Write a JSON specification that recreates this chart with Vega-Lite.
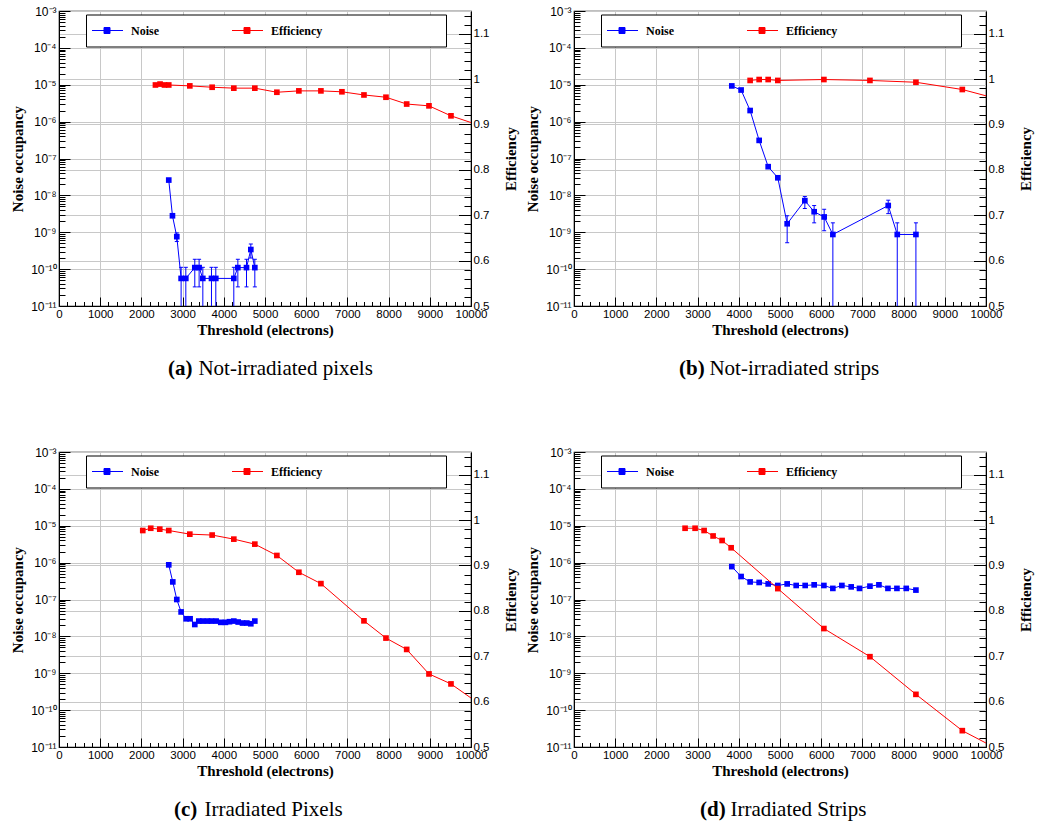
{
  "$schema": "https://vega.github.io/schema/vega-lite/v6.json",
  "background": "white",
  "padding": {"left": 10, "top": 4, "right": 2, "bottom": 2},
  "datasets": {
    "a": [
      {"s": "Noise", "t": 2664, "v": 2.6e-8},
      {"s": "Noise", "t": 2754, "v": 2.8e-9},
      {"s": "Noise", "t": 2859, "v": 7.6e-10, "lo": 5.6e-10, "hi": 9.6e-10},
      {"s": "Noise", "t": 2964, "v": 5.6e-11, "lo": 1e-12, "hi": 1.12e-10},
      {"s": "Noise", "t": 3078, "v": 5.6e-11, "lo": 1e-12, "hi": 1.12e-10},
      {"s": "Noise", "t": 3296, "v": 1.1e-10, "lo": 3.3e-11, "hi": 1.85e-10},
      {"s": "Noise", "t": 3401, "v": 1.1e-10, "lo": 3.3e-11, "hi": 1.85e-10},
      {"s": "Noise", "t": 3491, "v": 5.6e-11, "lo": 1e-12, "hi": 1.12e-10},
      {"s": "Noise", "t": 3701, "v": 5.6e-11, "lo": 1e-12, "hi": 1.12e-10},
      {"s": "Noise", "t": 3806, "v": 5.6e-11, "lo": 1e-12, "hi": 1.12e-10},
      {"s": "Noise", "t": 4243, "v": 5.6e-11, "lo": 1e-12, "hi": 1.12e-10},
      {"s": "Noise", "t": 4341, "v": 1.1e-10, "lo": 3.3e-11, "hi": 1.85e-10},
      {"s": "Noise", "t": 4551, "v": 1.1e-10, "lo": 3.3e-11, "hi": 1.85e-10},
      {"s": "Noise", "t": 4656, "v": 3.4e-10, "lo": 2.0e-10, "hi": 4.8e-10},
      {"s": "Noise", "t": 4753, "v": 1.1e-10, "lo": 3.3e-11, "hi": 1.85e-10},
      {"s": "Efficiency", "t": 2341, "v": 0.987},
      {"s": "Efficiency", "t": 2453, "v": 0.989},
      {"s": "Efficiency", "t": 2560, "v": 0.987},
      {"s": "Efficiency", "t": 2664, "v": 0.987},
      {"s": "Efficiency", "t": 3175, "v": 0.985},
      {"s": "Efficiency", "t": 3717, "v": 0.982},
      {"s": "Efficiency", "t": 4243, "v": 0.980},
      {"s": "Efficiency", "t": 4753, "v": 0.980},
      {"s": "Efficiency", "t": 5288, "v": 0.971},
      {"s": "Efficiency", "t": 5822, "v": 0.974},
      {"s": "Efficiency", "t": 6357, "v": 0.974},
      {"s": "Efficiency", "t": 6867, "v": 0.972},
      {"s": "Efficiency", "t": 7402, "v": 0.965},
      {"s": "Efficiency", "t": 7936, "v": 0.960},
      {"s": "Efficiency", "t": 8439, "v": 0.945},
      {"s": "Efficiency", "t": 8980, "v": 0.941},
      {"s": "Efficiency", "t": 9514, "v": 0.919},
      {"s": "Efficiency", "t": 10500, "v": 0.889}
    ],
    "b": [
      {"s": "Noise", "t": 3830, "v": 9.3e-6},
      {"s": "Noise", "t": 4056, "v": 7.2e-6},
      {"s": "Noise", "t": 4275, "v": 2.0e-6},
      {"s": "Noise", "t": 4494, "v": 3.1e-7},
      {"s": "Noise", "t": 4713, "v": 6.0e-8},
      {"s": "Noise", "t": 4947, "v": 3.0e-8},
      {"s": "Noise", "t": 5174, "v": 1.7e-9, "lo": 5.2e-10, "hi": 2.8e-9},
      {"s": "Noise", "t": 5603, "v": 7.2e-9, "lo": 4.4e-9, "hi": 9.3e-9},
      {"s": "Noise", "t": 5829, "v": 3.6e-9, "lo": 1.8e-9, "hi": 5.3e-9},
      {"s": "Noise", "t": 6072, "v": 2.6e-9, "lo": 1.1e-9, "hi": 4.2e-9},
      {"s": "Noise", "t": 6283, "v": 8.7e-10, "lo": 1e-12, "hi": 1.8e-9},
      {"s": "Noise", "t": 7627, "v": 5.3e-9, "lo": 3.2e-9, "hi": 7.4e-9},
      {"s": "Noise", "t": 7846, "v": 8.7e-10, "lo": 1e-12, "hi": 1.8e-9},
      {"s": "Noise", "t": 8299, "v": 8.7e-10, "lo": 1e-12, "hi": 1.8e-9},
      {"s": "Efficiency", "t": 4275, "v": 0.997},
      {"s": "Efficiency", "t": 4494, "v": 0.999},
      {"s": "Efficiency", "t": 4713, "v": 0.999},
      {"s": "Efficiency", "t": 4947, "v": 0.997},
      {"s": "Efficiency", "t": 6065, "v": 0.999},
      {"s": "Efficiency", "t": 7183, "v": 0.997},
      {"s": "Efficiency", "t": 8299, "v": 0.993},
      {"s": "Efficiency", "t": 9425, "v": 0.977},
      {"s": "Efficiency", "t": 10500, "v": 0.951}
    ],
    "c": [
      {"s": "Noise", "t": 2664, "v": 8.7e-7},
      {"s": "Noise", "t": 2762, "v": 3.0e-7},
      {"s": "Noise", "t": 2859, "v": 1.0e-7},
      {"s": "Noise", "t": 2964, "v": 4.6e-8},
      {"s": "Noise", "t": 3085, "v": 3.0e-8},
      {"s": "Noise", "t": 3182, "v": 3.0e-8},
      {"s": "Noise", "t": 3296, "v": 2.1e-8},
      {"s": "Noise", "t": 3393, "v": 2.6e-8},
      {"s": "Noise", "t": 3490, "v": 2.6e-8},
      {"s": "Noise", "t": 3603, "v": 2.6e-8},
      {"s": "Noise", "t": 3700, "v": 2.6e-8},
      {"s": "Noise", "t": 3814, "v": 2.6e-8},
      {"s": "Noise", "t": 3927, "v": 2.4e-8},
      {"s": "Noise", "t": 4040, "v": 2.4e-8},
      {"s": "Noise", "t": 4138, "v": 2.5e-8},
      {"s": "Noise", "t": 4243, "v": 2.6e-8},
      {"s": "Noise", "t": 4349, "v": 2.45e-8},
      {"s": "Noise", "t": 4454, "v": 2.3e-8},
      {"s": "Noise", "t": 4559, "v": 2.3e-8},
      {"s": "Noise", "t": 4656, "v": 2.2e-8},
      {"s": "Noise", "t": 4753, "v": 2.6e-8},
      {"s": "Efficiency", "t": 2033, "v": 0.977},
      {"s": "Efficiency", "t": 2227, "v": 0.982},
      {"s": "Efficiency", "t": 2446, "v": 0.980},
      {"s": "Efficiency", "t": 2664, "v": 0.977},
      {"s": "Efficiency", "t": 3175, "v": 0.969},
      {"s": "Efficiency", "t": 3717, "v": 0.967},
      {"s": "Efficiency", "t": 4243, "v": 0.958},
      {"s": "Efficiency", "t": 4753, "v": 0.947},
      {"s": "Efficiency", "t": 5288, "v": 0.922},
      {"s": "Efficiency", "t": 5822, "v": 0.885},
      {"s": "Efficiency", "t": 6357, "v": 0.860},
      {"s": "Efficiency", "t": 7402, "v": 0.778},
      {"s": "Efficiency", "t": 7936, "v": 0.740},
      {"s": "Efficiency", "t": 8439, "v": 0.715},
      {"s": "Efficiency", "t": 8980, "v": 0.661},
      {"s": "Efficiency", "t": 9514, "v": 0.639},
      {"s": "Efficiency", "t": 10500, "v": 0.576}
    ],
    "d": [
      {"s": "Noise", "t": 3830, "v": 7.8e-7},
      {"s": "Noise", "t": 4056, "v": 4.2e-7},
      {"s": "Noise", "t": 4275, "v": 3.0e-7},
      {"s": "Noise", "t": 4494, "v": 2.9e-7},
      {"s": "Noise", "t": 4713, "v": 2.65e-7},
      {"s": "Noise", "t": 4947, "v": 2.4e-7},
      {"s": "Noise", "t": 5174, "v": 2.65e-7},
      {"s": "Noise", "t": 5393, "v": 2.4e-7},
      {"s": "Noise", "t": 5611, "v": 2.4e-7},
      {"s": "Noise", "t": 5829, "v": 2.5e-7},
      {"s": "Noise", "t": 6065, "v": 2.4e-7},
      {"s": "Noise", "t": 6283, "v": 2.0e-7},
      {"s": "Noise", "t": 6502, "v": 2.4e-7},
      {"s": "Noise", "t": 6728, "v": 2.2e-7},
      {"s": "Noise", "t": 6930, "v": 2.0e-7},
      {"s": "Noise", "t": 7183, "v": 2.3e-7},
      {"s": "Noise", "t": 7401, "v": 2.5e-7},
      {"s": "Noise", "t": 7620, "v": 2.0e-7},
      {"s": "Noise", "t": 7838, "v": 2.0e-7},
      {"s": "Noise", "t": 8064, "v": 2.0e-7},
      {"s": "Noise", "t": 8299, "v": 1.8e-7},
      {"s": "Efficiency", "t": 2696, "v": 0.982},
      {"s": "Efficiency", "t": 2939, "v": 0.982},
      {"s": "Efficiency", "t": 3158, "v": 0.977},
      {"s": "Efficiency", "t": 3376, "v": 0.965},
      {"s": "Efficiency", "t": 3595, "v": 0.955},
      {"s": "Efficiency", "t": 3814, "v": 0.939},
      {"s": "Efficiency", "t": 4947, "v": 0.849},
      {"s": "Efficiency", "t": 6065, "v": 0.761},
      {"s": "Efficiency", "t": 7183, "v": 0.699},
      {"s": "Efficiency", "t": 8299, "v": 0.616},
      {"s": "Efficiency", "t": 9425, "v": 0.536},
      {"s": "Efficiency", "t": 10500, "v": 0.485}
    ]
  },
  "columns": 2,
  "spacing": {"row": 146, "column": 103},
  "bounds": "flush",
  "resolve": {"scale": {"x": "independent", "y": "independent", "color": "independent"}, "legend": {"color": "independent"}},
  "concat": [
    {
      "width": 412, "height": 295,
      "title": {"text": "(a)", "subtitle": "\u200B\u2003\u2005\u2009Not-irradiated pixels", "dx": 109},
      "data": {"name": "a"},
      "resolve": {"scale": {"x": "independent", "y": "independent"}},
      "layer": [
        {"transform": [{"filter": "datum.s == 'Noise'"}],
         "mark": {"type": "line", "strokeWidth": 1, "clip": true},
         "encoding": {
           "x": {"field": "t", "type": "quantitative", "scale": {"domain": [0, 10000], "nice": false}, "axis": {"orient": "bottom", "values": [0,1000,2000,3000,4000,5000,6000,7000,8000,9000,10000], "format": "d", "tickSize": -9, "labelPadding": 11, "grid": true, "title": "Threshold (electrons)", "titlePadding": 3}},
           "y": {"field": "v", "type": "quantitative", "scale": {"type": "log", "domain": [1e-11, 1e-3], "nice": false}, "axis": {"orient": "left", "values": [1e-11,1e-10,1e-9,1e-8,1e-7,1e-6,1e-5,1e-4,1e-3], "labelExpr": "'10' + ['⁻¹¹','⁻¹⁰','⁻⁹','⁻⁸','⁻⁷','⁻⁶','⁻⁵','⁻⁴','⁻³'][round(log(datum.value)/LN10)+11]", "labelFontSize": 12, "tickSize": -11, "labelPadding": 14, "grid": true, "title": "Noise occupancy", "titlePadding": 5}},
           "color": {"field": "s", "type": "nominal", "scale": {"domain": ["Noise", "Efficiency"], "range": ["#0000ff", "#ff0000"]}, "legend": {"title": null, "orient": "none", "legendX": 27, "legendY": 3.5, "direction": "horizontal", "labelExpr": "datum.label == 'Efficiency' ? 'Efficiency\u2003\u2003\u2003\u2003\u2003\u2003\u2003\u2003\u2003\u2005\u2009\u200B' : datum.label"}}
         }},
        {"transform": [{"filter": "datum.s == 'Noise'"}],
         "mark": {"type": "point", "shape": "square", "filled": true, "size": 32, "opacity": 1, "clip": true},
         "encoding": {
           "x": {"field": "t", "type": "quantitative", "scale": {"domain": [0, 10000], "nice": false}, "axis": {"orient": "bottom", "values": [200,400,600,800,1200,1400,1600,1800,2200,2400,2600,2800,3200,3400,3600,3800,4200,4400,4600,4800,5200,5400,5600,5800,6200,6400,6600,6800,7200,7400,7600,7800,8200,8400,8600,8800,9200,9400,9600,9800], "labels": false, "tickSize": -4.5, "grid": false, "domain": false, "title": null}},
           "y": {"field": "v", "type": "quantitative", "scale": {"type": "log", "domain": [1e-11, 1e-3], "nice": false}, "axis": {"orient": "left", "values": [2e-11,3e-11,4e-11,5e-11,6e-11,7e-11,8e-11,9e-11,2e-10,3e-10,4e-10,5e-10,6e-10,7e-10,8e-10,9e-10,2e-9,3e-9,4e-9,5e-9,6e-9,7e-9,8e-9,9e-9,2e-8,3e-8,4e-8,5e-8,6e-8,7e-8,8e-8,9e-8,2e-7,3e-7,4e-7,5e-7,6e-7,7e-7,8e-7,9e-7,2e-6,3e-6,4e-6,5e-6,6e-6,7e-6,8e-6,9e-6,2e-5,3e-5,4e-5,5e-5,6e-5,7e-5,8e-5,9e-5,2e-4,3e-4,4e-4,5e-4,6e-4,7e-4,8e-4,9e-4], "labels": false, "tickSize": -6, "grid": false, "domain": false, "title": null}},
           "color": {"field": "s", "type": "nominal", "scale": {"domain": ["Noise", "Efficiency"], "range": ["#0000ff", "#ff0000"]}, "legend": {"title": null, "orient": "none", "legendX": 27, "legendY": 3.5, "direction": "horizontal", "labelExpr": "datum.label == 'Efficiency' ? 'Efficiency\u2003\u2003\u2003\u2003\u2003\u2003\u2003\u2003\u2003\u2005\u2009\u200B' : datum.label"}}
         }},
        {"transform": [{"filter": "datum.s == 'Noise' && isValid(datum.lo)"}],
         "mark": {"type": "rule", "color": "#0000ff", "strokeWidth": 1, "clip": true},
         "encoding": {
           "x": {"field": "t", "type": "quantitative", "scale": {"domain": [0, 10000], "nice": false}, "axis": null},
           "y": {"field": "lo", "type": "quantitative", "scale": {"type": "log", "domain": [1e-11, 1e-3], "nice": false}, "axis": null},
           "y2": {"field": "hi"}
         }},
        {"transform": [{"filter": "datum.s == 'Noise' && isValid(datum.lo)"}],
         "mark": {"type": "tick", "orient": "horizontal", "size": 4, "thickness": 1, "color": "#0000ff", "opacity": 1, "clip": true},
         "encoding": {
           "x": {"field": "t", "type": "quantitative", "scale": {"domain": [0, 10000], "nice": false}, "axis": null},
           "y": {"field": "hi", "type": "quantitative", "scale": {"type": "log", "domain": [1e-11, 1e-3], "nice": false}, "axis": null}
         }},
        {"transform": [{"filter": "datum.s == 'Noise' && isValid(datum.lo)"}],
         "mark": {"type": "tick", "orient": "horizontal", "size": 4, "thickness": 1, "color": "#0000ff", "opacity": 1, "clip": true},
         "encoding": {
           "x": {"field": "t", "type": "quantitative", "scale": {"domain": [0, 10000], "nice": false}, "axis": null},
           "y": {"field": "lo", "type": "quantitative", "scale": {"type": "log", "domain": [1e-11, 1e-3], "nice": false}, "axis": null}
         }},
        {"transform": [{"filter": "datum.s == 'Efficiency'"}],
         "mark": {"type": "line", "strokeWidth": 1, "clip": true},
         "encoding": {
           "x": {"field": "t", "type": "quantitative", "scale": {"domain": [0, 10000], "nice": false}, "axis": null},
           "y": {"field": "v", "type": "quantitative", "scale": {"domain": [0.5, 1.15], "nice": false, "zero": false}, "axis": {"orient": "right", "values": [0.5,0.6,0.7,0.8,0.9,1,1.1], "format": "~g", "tickSize": -12.5, "labelPadding": 14.5, "grid": true, "title": "Efficiency", "titleAngle": 270, "titlePadding": 30}},
           "color": {"field": "s", "type": "nominal", "scale": {"domain": ["Noise", "Efficiency"], "range": ["#0000ff", "#ff0000"]}, "legend": {"title": null, "orient": "none", "legendX": 27, "legendY": 3.5, "direction": "horizontal", "labelExpr": "datum.label == 'Efficiency' ? 'Efficiency\u2003\u2003\u2003\u2003\u2003\u2003\u2003\u2003\u2003\u2005\u2009\u200B' : datum.label"}}
         }},
        {"transform": [{"filter": "datum.s == 'Efficiency'"}],
         "mark": {"type": "point", "shape": "square", "filled": true, "size": 32, "opacity": 1, "clip": true},
         "encoding": {
           "x": {"field": "t", "type": "quantitative", "scale": {"domain": [0, 10000], "nice": false}, "axis": null},
           "y": {"field": "v", "type": "quantitative", "scale": {"domain": [0.5, 1.15], "nice": false, "zero": false}, "axis": {"orient": "right", "values": [0.52,0.54,0.56,0.58,0.62,0.64,0.66,0.68,0.72,0.74,0.76,0.78,0.82,0.84,0.86,0.88,0.92,0.94,0.96,0.98,1.02,1.04,1.06,1.08,1.12,1.14], "labels": false, "tickSize": -7, "grid": false, "domain": false, "title": null}},
           "color": {"field": "s", "type": "nominal", "scale": {"domain": ["Noise", "Efficiency"], "range": ["#0000ff", "#ff0000"]}, "legend": {"title": null, "orient": "none", "legendX": 27, "legendY": 3.5, "direction": "horizontal", "labelExpr": "datum.label == 'Efficiency' ? 'Efficiency\u2003\u2003\u2003\u2003\u2003\u2003\u2003\u2003\u2003\u2005\u2009\u200B' : datum.label"}}
         }}
      ]
    },
    {
      "width": 412, "height": 295,
      "title": {"text": "(b)", "subtitle": "\u200B\u2003\u2005\u2009Not-irradiated strips", "dx": 105},
      "data": {"name": "b"},
      "resolve": {"scale": {"x": "independent", "y": "independent"}},
      "layer": [
        {"transform": [{"filter": "datum.s == 'Noise'"}],
         "mark": {"type": "line", "strokeWidth": 1, "clip": true},
         "encoding": {
           "x": {"field": "t", "type": "quantitative", "scale": {"domain": [0, 10000], "nice": false}, "axis": {"orient": "bottom", "values": [0,1000,2000,3000,4000,5000,6000,7000,8000,9000,10000], "format": "d", "tickSize": -9, "labelPadding": 11, "grid": true, "title": "Threshold (electrons)", "titlePadding": 3}},
           "y": {"field": "v", "type": "quantitative", "scale": {"type": "log", "domain": [1e-11, 1e-3], "nice": false}, "axis": {"orient": "left", "values": [1e-11,1e-10,1e-9,1e-8,1e-7,1e-6,1e-5,1e-4,1e-3], "labelExpr": "'10' + ['⁻¹¹','⁻¹⁰','⁻⁹','⁻⁸','⁻⁷','⁻⁶','⁻⁵','⁻⁴','⁻³'][round(log(datum.value)/LN10)+11]", "labelFontSize": 12, "tickSize": -11, "labelPadding": 14, "grid": true, "title": "Noise occupancy", "titlePadding": 5}},
           "color": {"field": "s", "type": "nominal", "scale": {"domain": ["Noise", "Efficiency"], "range": ["#0000ff", "#ff0000"]}, "legend": {"title": null, "orient": "none", "legendX": 27, "legendY": 3.5, "direction": "horizontal", "labelExpr": "datum.label == 'Efficiency' ? 'Efficiency\u2003\u2003\u2003\u2003\u2003\u2003\u2003\u2003\u2003\u2005\u2009\u200B' : datum.label"}}
         }},
        {"transform": [{"filter": "datum.s == 'Noise'"}],
         "mark": {"type": "point", "shape": "square", "filled": true, "size": 32, "opacity": 1, "clip": true},
         "encoding": {
           "x": {"field": "t", "type": "quantitative", "scale": {"domain": [0, 10000], "nice": false}, "axis": {"orient": "bottom", "values": [200,400,600,800,1200,1400,1600,1800,2200,2400,2600,2800,3200,3400,3600,3800,4200,4400,4600,4800,5200,5400,5600,5800,6200,6400,6600,6800,7200,7400,7600,7800,8200,8400,8600,8800,9200,9400,9600,9800], "labels": false, "tickSize": -4.5, "grid": false, "domain": false, "title": null}},
           "y": {"field": "v", "type": "quantitative", "scale": {"type": "log", "domain": [1e-11, 1e-3], "nice": false}, "axis": {"orient": "left", "values": [2e-11,3e-11,4e-11,5e-11,6e-11,7e-11,8e-11,9e-11,2e-10,3e-10,4e-10,5e-10,6e-10,7e-10,8e-10,9e-10,2e-9,3e-9,4e-9,5e-9,6e-9,7e-9,8e-9,9e-9,2e-8,3e-8,4e-8,5e-8,6e-8,7e-8,8e-8,9e-8,2e-7,3e-7,4e-7,5e-7,6e-7,7e-7,8e-7,9e-7,2e-6,3e-6,4e-6,5e-6,6e-6,7e-6,8e-6,9e-6,2e-5,3e-5,4e-5,5e-5,6e-5,7e-5,8e-5,9e-5,2e-4,3e-4,4e-4,5e-4,6e-4,7e-4,8e-4,9e-4], "labels": false, "tickSize": -6, "grid": false, "domain": false, "title": null}},
           "color": {"field": "s", "type": "nominal", "scale": {"domain": ["Noise", "Efficiency"], "range": ["#0000ff", "#ff0000"]}, "legend": {"title": null, "orient": "none", "legendX": 27, "legendY": 3.5, "direction": "horizontal", "labelExpr": "datum.label == 'Efficiency' ? 'Efficiency\u2003\u2003\u2003\u2003\u2003\u2003\u2003\u2003\u2003\u2005\u2009\u200B' : datum.label"}}
         }},
        {"transform": [{"filter": "datum.s == 'Noise' && isValid(datum.lo)"}],
         "mark": {"type": "rule", "color": "#0000ff", "strokeWidth": 1, "clip": true},
         "encoding": {
           "x": {"field": "t", "type": "quantitative", "scale": {"domain": [0, 10000], "nice": false}, "axis": null},
           "y": {"field": "lo", "type": "quantitative", "scale": {"type": "log", "domain": [1e-11, 1e-3], "nice": false}, "axis": null},
           "y2": {"field": "hi"}
         }},
        {"transform": [{"filter": "datum.s == 'Noise' && isValid(datum.lo)"}],
         "mark": {"type": "tick", "orient": "horizontal", "size": 4, "thickness": 1, "color": "#0000ff", "opacity": 1, "clip": true},
         "encoding": {
           "x": {"field": "t", "type": "quantitative", "scale": {"domain": [0, 10000], "nice": false}, "axis": null},
           "y": {"field": "hi", "type": "quantitative", "scale": {"type": "log", "domain": [1e-11, 1e-3], "nice": false}, "axis": null}
         }},
        {"transform": [{"filter": "datum.s == 'Noise' && isValid(datum.lo)"}],
         "mark": {"type": "tick", "orient": "horizontal", "size": 4, "thickness": 1, "color": "#0000ff", "opacity": 1, "clip": true},
         "encoding": {
           "x": {"field": "t", "type": "quantitative", "scale": {"domain": [0, 10000], "nice": false}, "axis": null},
           "y": {"field": "lo", "type": "quantitative", "scale": {"type": "log", "domain": [1e-11, 1e-3], "nice": false}, "axis": null}
         }},
        {"transform": [{"filter": "datum.s == 'Efficiency'"}],
         "mark": {"type": "line", "strokeWidth": 1, "clip": true},
         "encoding": {
           "x": {"field": "t", "type": "quantitative", "scale": {"domain": [0, 10000], "nice": false}, "axis": null},
           "y": {"field": "v", "type": "quantitative", "scale": {"domain": [0.5, 1.15], "nice": false, "zero": false}, "axis": {"orient": "right", "values": [0.5,0.6,0.7,0.8,0.9,1,1.1], "format": "~g", "tickSize": -12.5, "labelPadding": 14.5, "grid": true, "title": "Efficiency", "titleAngle": 270, "titlePadding": 30}},
           "color": {"field": "s", "type": "nominal", "scale": {"domain": ["Noise", "Efficiency"], "range": ["#0000ff", "#ff0000"]}, "legend": {"title": null, "orient": "none", "legendX": 27, "legendY": 3.5, "direction": "horizontal", "labelExpr": "datum.label == 'Efficiency' ? 'Efficiency\u2003\u2003\u2003\u2003\u2003\u2003\u2003\u2003\u2003\u2005\u2009\u200B' : datum.label"}}
         }},
        {"transform": [{"filter": "datum.s == 'Efficiency'"}],
         "mark": {"type": "point", "shape": "square", "filled": true, "size": 32, "opacity": 1, "clip": true},
         "encoding": {
           "x": {"field": "t", "type": "quantitative", "scale": {"domain": [0, 10000], "nice": false}, "axis": null},
           "y": {"field": "v", "type": "quantitative", "scale": {"domain": [0.5, 1.15], "nice": false, "zero": false}, "axis": {"orient": "right", "values": [0.52,0.54,0.56,0.58,0.62,0.64,0.66,0.68,0.72,0.74,0.76,0.78,0.82,0.84,0.86,0.88,0.92,0.94,0.96,0.98,1.02,1.04,1.06,1.08,1.12,1.14], "labels": false, "tickSize": -7, "grid": false, "domain": false, "title": null}},
           "color": {"field": "s", "type": "nominal", "scale": {"domain": ["Noise", "Efficiency"], "range": ["#0000ff", "#ff0000"]}, "legend": {"title": null, "orient": "none", "legendX": 27, "legendY": 3.5, "direction": "horizontal", "labelExpr": "datum.label == 'Efficiency' ? 'Efficiency\u2003\u2003\u2003\u2003\u2003\u2003\u2003\u2003\u2003\u2005\u2009\u200B' : datum.label"}}
         }}
      ]
    },
    {
      "width": 412, "height": 295,
      "title": {"text": "(c)", "subtitle": "\u200B\u2003\u2005\u2009Irradiated Pixels", "dx": 115},
      "data": {"name": "c"},
      "resolve": {"scale": {"x": "independent", "y": "independent"}},
      "layer": [
        {"transform": [{"filter": "datum.s == 'Noise'"}],
         "mark": {"type": "line", "strokeWidth": 1, "clip": true},
         "encoding": {
           "x": {"field": "t", "type": "quantitative", "scale": {"domain": [0, 10000], "nice": false}, "axis": {"orient": "bottom", "values": [0,1000,2000,3000,4000,5000,6000,7000,8000,9000,10000], "format": "d", "tickSize": -9, "labelPadding": 11, "grid": true, "title": "Threshold (electrons)", "titlePadding": 3}},
           "y": {"field": "v", "type": "quantitative", "scale": {"type": "log", "domain": [1e-11, 1e-3], "nice": false}, "axis": {"orient": "left", "values": [1e-11,1e-10,1e-9,1e-8,1e-7,1e-6,1e-5,1e-4,1e-3], "labelExpr": "'10' + ['⁻¹¹','⁻¹⁰','⁻⁹','⁻⁸','⁻⁷','⁻⁶','⁻⁵','⁻⁴','⁻³'][round(log(datum.value)/LN10)+11]", "labelFontSize": 12, "tickSize": -11, "labelPadding": 14, "grid": true, "title": "Noise occupancy", "titlePadding": 5}},
           "color": {"field": "s", "type": "nominal", "scale": {"domain": ["Noise", "Efficiency"], "range": ["#0000ff", "#ff0000"]}, "legend": {"title": null, "orient": "none", "legendX": 27, "legendY": 3.5, "direction": "horizontal", "labelExpr": "datum.label == 'Efficiency' ? 'Efficiency\u2003\u2003\u2003\u2003\u2003\u2003\u2003\u2003\u2003\u2005\u2009\u200B' : datum.label"}}
         }},
        {"transform": [{"filter": "datum.s == 'Noise'"}],
         "mark": {"type": "point", "shape": "square", "filled": true, "size": 32, "opacity": 1, "clip": true},
         "encoding": {
           "x": {"field": "t", "type": "quantitative", "scale": {"domain": [0, 10000], "nice": false}, "axis": {"orient": "bottom", "values": [200,400,600,800,1200,1400,1600,1800,2200,2400,2600,2800,3200,3400,3600,3800,4200,4400,4600,4800,5200,5400,5600,5800,6200,6400,6600,6800,7200,7400,7600,7800,8200,8400,8600,8800,9200,9400,9600,9800], "labels": false, "tickSize": -4.5, "grid": false, "domain": false, "title": null}},
           "y": {"field": "v", "type": "quantitative", "scale": {"type": "log", "domain": [1e-11, 1e-3], "nice": false}, "axis": {"orient": "left", "values": [2e-11,3e-11,4e-11,5e-11,6e-11,7e-11,8e-11,9e-11,2e-10,3e-10,4e-10,5e-10,6e-10,7e-10,8e-10,9e-10,2e-9,3e-9,4e-9,5e-9,6e-9,7e-9,8e-9,9e-9,2e-8,3e-8,4e-8,5e-8,6e-8,7e-8,8e-8,9e-8,2e-7,3e-7,4e-7,5e-7,6e-7,7e-7,8e-7,9e-7,2e-6,3e-6,4e-6,5e-6,6e-6,7e-6,8e-6,9e-6,2e-5,3e-5,4e-5,5e-5,6e-5,7e-5,8e-5,9e-5,2e-4,3e-4,4e-4,5e-4,6e-4,7e-4,8e-4,9e-4], "labels": false, "tickSize": -6, "grid": false, "domain": false, "title": null}},
           "color": {"field": "s", "type": "nominal", "scale": {"domain": ["Noise", "Efficiency"], "range": ["#0000ff", "#ff0000"]}, "legend": {"title": null, "orient": "none", "legendX": 27, "legendY": 3.5, "direction": "horizontal", "labelExpr": "datum.label == 'Efficiency' ? 'Efficiency\u2003\u2003\u2003\u2003\u2003\u2003\u2003\u2003\u2003\u2005\u2009\u200B' : datum.label"}}
         }},
        {"transform": [{"filter": "datum.s == 'Efficiency'"}],
         "mark": {"type": "line", "strokeWidth": 1, "clip": true},
         "encoding": {
           "x": {"field": "t", "type": "quantitative", "scale": {"domain": [0, 10000], "nice": false}, "axis": null},
           "y": {"field": "v", "type": "quantitative", "scale": {"domain": [0.5, 1.15], "nice": false, "zero": false}, "axis": {"orient": "right", "values": [0.5,0.6,0.7,0.8,0.9,1,1.1], "format": "~g", "tickSize": -12.5, "labelPadding": 14.5, "grid": true, "title": "Efficiency", "titleAngle": 270, "titlePadding": 30}},
           "color": {"field": "s", "type": "nominal", "scale": {"domain": ["Noise", "Efficiency"], "range": ["#0000ff", "#ff0000"]}, "legend": {"title": null, "orient": "none", "legendX": 27, "legendY": 3.5, "direction": "horizontal", "labelExpr": "datum.label == 'Efficiency' ? 'Efficiency\u2003\u2003\u2003\u2003\u2003\u2003\u2003\u2003\u2003\u2005\u2009\u200B' : datum.label"}}
         }},
        {"transform": [{"filter": "datum.s == 'Efficiency'"}],
         "mark": {"type": "point", "shape": "square", "filled": true, "size": 32, "opacity": 1, "clip": true},
         "encoding": {
           "x": {"field": "t", "type": "quantitative", "scale": {"domain": [0, 10000], "nice": false}, "axis": null},
           "y": {"field": "v", "type": "quantitative", "scale": {"domain": [0.5, 1.15], "nice": false, "zero": false}, "axis": {"orient": "right", "values": [0.52,0.54,0.56,0.58,0.62,0.64,0.66,0.68,0.72,0.74,0.76,0.78,0.82,0.84,0.86,0.88,0.92,0.94,0.96,0.98,1.02,1.04,1.06,1.08,1.12,1.14], "labels": false, "tickSize": -7, "grid": false, "domain": false, "title": null}},
           "color": {"field": "s", "type": "nominal", "scale": {"domain": ["Noise", "Efficiency"], "range": ["#0000ff", "#ff0000"]}, "legend": {"title": null, "orient": "none", "legendX": 27, "legendY": 3.5, "direction": "horizontal", "labelExpr": "datum.label == 'Efficiency' ? 'Efficiency\u2003\u2003\u2003\u2003\u2003\u2003\u2003\u2003\u2003\u2005\u2009\u200B' : datum.label"}}
         }}
      ]
    },
    {
      "width": 412, "height": 295,
      "title": {"text": "(d)", "subtitle": "\u200B\u2003\u2005\u2009Irradiated Strips", "dx": 126},
      "data": {"name": "d"},
      "resolve": {"scale": {"x": "independent", "y": "independent"}},
      "layer": [
        {"transform": [{"filter": "datum.s == 'Noise'"}],
         "mark": {"type": "line", "strokeWidth": 1, "clip": true},
         "encoding": {
           "x": {"field": "t", "type": "quantitative", "scale": {"domain": [0, 10000], "nice": false}, "axis": {"orient": "bottom", "values": [0,1000,2000,3000,4000,5000,6000,7000,8000,9000,10000], "format": "d", "tickSize": -9, "labelPadding": 11, "grid": true, "title": "Threshold (electrons)", "titlePadding": 3}},
           "y": {"field": "v", "type": "quantitative", "scale": {"type": "log", "domain": [1e-11, 1e-3], "nice": false}, "axis": {"orient": "left", "values": [1e-11,1e-10,1e-9,1e-8,1e-7,1e-6,1e-5,1e-4,1e-3], "labelExpr": "'10' + ['⁻¹¹','⁻¹⁰','⁻⁹','⁻⁸','⁻⁷','⁻⁶','⁻⁵','⁻⁴','⁻³'][round(log(datum.value)/LN10)+11]", "labelFontSize": 12, "tickSize": -11, "labelPadding": 14, "grid": true, "title": "Noise occupancy", "titlePadding": 5}},
           "color": {"field": "s", "type": "nominal", "scale": {"domain": ["Noise", "Efficiency"], "range": ["#0000ff", "#ff0000"]}, "legend": {"title": null, "orient": "none", "legendX": 27, "legendY": 3.5, "direction": "horizontal", "labelExpr": "datum.label == 'Efficiency' ? 'Efficiency\u2003\u2003\u2003\u2003\u2003\u2003\u2003\u2003\u2003\u2005\u2009\u200B' : datum.label"}}
         }},
        {"transform": [{"filter": "datum.s == 'Noise'"}],
         "mark": {"type": "point", "shape": "square", "filled": true, "size": 32, "opacity": 1, "clip": true},
         "encoding": {
           "x": {"field": "t", "type": "quantitative", "scale": {"domain": [0, 10000], "nice": false}, "axis": {"orient": "bottom", "values": [200,400,600,800,1200,1400,1600,1800,2200,2400,2600,2800,3200,3400,3600,3800,4200,4400,4600,4800,5200,5400,5600,5800,6200,6400,6600,6800,7200,7400,7600,7800,8200,8400,8600,8800,9200,9400,9600,9800], "labels": false, "tickSize": -4.5, "grid": false, "domain": false, "title": null}},
           "y": {"field": "v", "type": "quantitative", "scale": {"type": "log", "domain": [1e-11, 1e-3], "nice": false}, "axis": {"orient": "left", "values": [2e-11,3e-11,4e-11,5e-11,6e-11,7e-11,8e-11,9e-11,2e-10,3e-10,4e-10,5e-10,6e-10,7e-10,8e-10,9e-10,2e-9,3e-9,4e-9,5e-9,6e-9,7e-9,8e-9,9e-9,2e-8,3e-8,4e-8,5e-8,6e-8,7e-8,8e-8,9e-8,2e-7,3e-7,4e-7,5e-7,6e-7,7e-7,8e-7,9e-7,2e-6,3e-6,4e-6,5e-6,6e-6,7e-6,8e-6,9e-6,2e-5,3e-5,4e-5,5e-5,6e-5,7e-5,8e-5,9e-5,2e-4,3e-4,4e-4,5e-4,6e-4,7e-4,8e-4,9e-4], "labels": false, "tickSize": -6, "grid": false, "domain": false, "title": null}},
           "color": {"field": "s", "type": "nominal", "scale": {"domain": ["Noise", "Efficiency"], "range": ["#0000ff", "#ff0000"]}, "legend": {"title": null, "orient": "none", "legendX": 27, "legendY": 3.5, "direction": "horizontal", "labelExpr": "datum.label == 'Efficiency' ? 'Efficiency\u2003\u2003\u2003\u2003\u2003\u2003\u2003\u2003\u2003\u2005\u2009\u200B' : datum.label"}}
         }},
        {"transform": [{"filter": "datum.s == 'Efficiency'"}],
         "mark": {"type": "line", "strokeWidth": 1, "clip": true},
         "encoding": {
           "x": {"field": "t", "type": "quantitative", "scale": {"domain": [0, 10000], "nice": false}, "axis": null},
           "y": {"field": "v", "type": "quantitative", "scale": {"domain": [0.5, 1.15], "nice": false, "zero": false}, "axis": {"orient": "right", "values": [0.5,0.6,0.7,0.8,0.9,1,1.1], "format": "~g", "tickSize": -12.5, "labelPadding": 14.5, "grid": true, "title": "Efficiency", "titleAngle": 270, "titlePadding": 30}},
           "color": {"field": "s", "type": "nominal", "scale": {"domain": ["Noise", "Efficiency"], "range": ["#0000ff", "#ff0000"]}, "legend": {"title": null, "orient": "none", "legendX": 27, "legendY": 3.5, "direction": "horizontal", "labelExpr": "datum.label == 'Efficiency' ? 'Efficiency\u2003\u2003\u2003\u2003\u2003\u2003\u2003\u2003\u2003\u2005\u2009\u200B' : datum.label"}}
         }},
        {"transform": [{"filter": "datum.s == 'Efficiency'"}],
         "mark": {"type": "point", "shape": "square", "filled": true, "size": 32, "opacity": 1, "clip": true},
         "encoding": {
           "x": {"field": "t", "type": "quantitative", "scale": {"domain": [0, 10000], "nice": false}, "axis": null},
           "y": {"field": "v", "type": "quantitative", "scale": {"domain": [0.5, 1.15], "nice": false, "zero": false}, "axis": {"orient": "right", "values": [0.52,0.54,0.56,0.58,0.62,0.64,0.66,0.68,0.72,0.74,0.76,0.78,0.82,0.84,0.86,0.88,0.92,0.94,0.96,0.98,1.02,1.04,1.06,1.08,1.12,1.14], "labels": false, "tickSize": -7, "grid": false, "domain": false, "title": null}},
           "color": {"field": "s", "type": "nominal", "scale": {"domain": ["Noise", "Efficiency"], "range": ["#0000ff", "#ff0000"]}, "legend": {"title": null, "orient": "none", "legendX": 27, "legendY": 3.5, "direction": "horizontal", "labelExpr": "datum.label == 'Efficiency' ? 'Efficiency\u2003\u2003\u2003\u2003\u2003\u2003\u2003\u2003\u2003\u2005\u2009\u200B' : datum.label"}}
         }}
      ]
    }
  ],
  "config": {
    "view": {"stroke": "black", "strokeWidth": 1.2},
    "axis": {"labelFont": "Liberation Sans", "labelFontSize": 11.5, "labelColor": "black", "tickColor": "black", "tickWidth": 1, "domainColor": "black", "domainWidth": 1, "titleFont": "Liberation Serif", "titleFontSize": 15, "titleFontWeight": "bold", "titleColor": "black", "gridColor": "#c8c8c8", "gridWidth": 1, "labelOverlap": false, "labelFlush": false, "labelBound": false},
    "legend": {"fillColor": "white", "strokeColor": "black", "padding": 10, "cornerRadius": 0, "symbolType": "M-10,0H21M2,-3H8V3H2Z", "symbolSize": 4, "symbolStrokeWidth": 1, "labelFont": "Liberation Serif", "labelFontWeight": "bold", "labelFontSize": 12, "labelColor": "black", "labelOffset": 23, "columnPadding": 71, "labelLimit": 400},
    "title": {"orient": "bottom", "anchor": "start", "frame": "group", "font": "Liberation Serif", "fontSize": 21, "fontWeight": "bold", "color": "black", "subtitleFont": "Liberation Serif", "subtitleFontSize": 21, "subtitleFontWeight": "normal", "subtitleColor": "black", "subtitlePadding": -21, "offset": 20}
  }
}
